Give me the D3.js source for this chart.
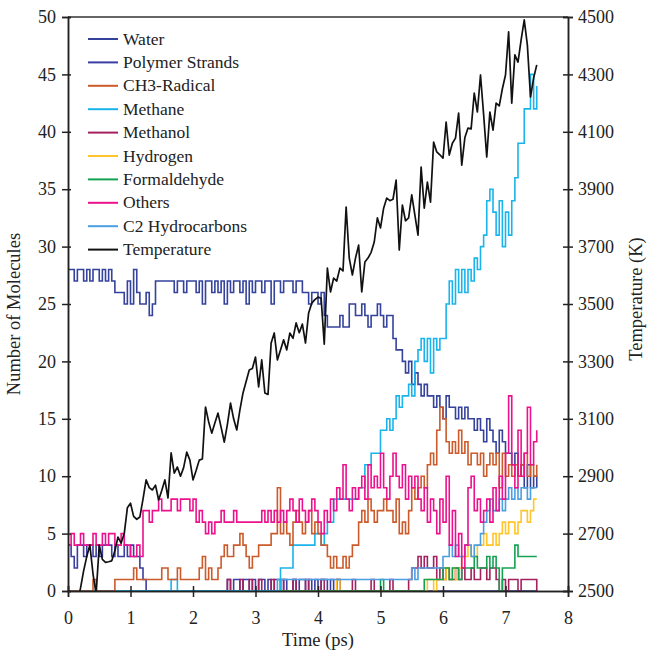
<html>
<head>
    <style>
        body { margin: 0; background: #fff; }
        text { font-family: "Liberation Serif", "Times New Roman", serif; fill: #222; }
    </style>
    <script src="https://cdn.jsdelivr.net/npm/d3@7"></script>
</head>
<body>
    <svg id="container" width="654" height="655">
        <g id="body" transform="translate(68 17)"></g>
    </svg>
</body>
<script>
    // sample step of every series (ps)
    const dt = 0.05

    const xTicks = [0, 1, 2, 3, 4, 5, 6, 7, 8]
    const yTicks = [0, 5, 10, 15, 20, 25, 30, 35, 40, 45, 50]
    const tTicks = [2500, 2700, 2900, 3100, 3300, 3500, 3700, 3900, 4100, 4300, 4500]

    const water = [
        28,28,27,28,28,27,28,27,28,28,27,28,27,28,
        27,26,26,
        26,25,27,25,28,26,25,
        25,26,24,25,
        27,27,27,27,27,27,26,27,27,26,27,27,
        27,26,27,25,27,27,26,27,26,27,25,27,26,27,27,26,27,25,27,26,
        27,27,26,27,27,25,27,27,26,27,27,27,26,27,27,26,26,25,26,
        26,25,26,24,23,23,
        23,23,24,23,23,
        25,25,24,
        24,25,24,23,24,24,25,24,23,24,24,
        22,21,21,
        20,19,20,18,19,
        18,17,18,17,17,16,
        17,16,15,17,16,16,
        15,16,15,16,15,15,
        14,15,14,13,15,14,
        13,12,14,13,12,12,
        11,12,10,11,9,11,
        9,10,9
    ]

    const polymer = [
        4,3,2,4,4,3,4,4,3,4,3,4,4,4,3,4,3,3,4,3,4,3,3,2,1,
        0,0,0,0,0,0,0,0,0,0,0,0,0,0,0,0,0,0,0,0,0,0,0,0,0,0,
        1,0,1,1,0,1,1,0,1,0,1,1,0,1,0,1,1,0,1,0,0,1,0,1,1,0,1,0,1,0,1,1,0,1,0,1,
        0,0,0,0,0,0,0,0,0,0,0,0,0,0,0,0,0,0,0,0,0,0,0,0,0,0,0,0,0,0,0,0,
        0,0,0,0,0,0,0,0,0,0,0,0,0,0,0,0,0,0,0,0,0,0,0,0,0,0,0,0,0,0,0,0
    ]

    const ch3 = [
        0,0,0,0,0,0,0,0,
        1,
        0,0,0,0,0,0,
        1,1,1,1,1,1,
        2,1,
        1,1,1,1,1,1,1,
        2,2,
        1,1,1,
        2,
        1,1,1,1,1,1,
        2,3,1,2,
        1,1,2,
        3,4,3,3,4,
        4,5,4,
        3,2,3,3,
        4,4,4,4,
        5,5,9,
        5,6,5,4,
        6,7,6,5,6,7,5,6,5,
        4,4,
        3,2,3,2,2,3,2,
        3,4,4,
        6,7,6,8,7,6,7,
        7,8,7,7,
        6,8,5,6,5,7,
        9,8,9,10,9,
        11,12,11,
        14,16,15,13,
        12,13,12,14,12,13,11,12,
        12,11,12,10,11,12,11,12,
        9,12,10,11,
        10,11,10,11,12,10,11,10,11
    ]

    const methane = [
        0,0,0,0,0,0,0,0,0,0,0,0,0,0,0,0,0,0,0,0,0,0,0,0,0,0,0,0,0,0,0,0,0,
        1,1,
        0,0,0,0,0,0,0,0,0,0,0,0,0,0,0,0,0,0,0,0,0,0,0,0,0,0,0,0,0,0,0,0,0,
        2,2,2,2,
        4,4,4,4,4,4,4,
        5,5,4,5,
        6,6,
        8,8,8,8,8,8,8,8,
        9,9,
        11,11,12,12,
        12,14,
        14,15,14,15,
        17,16,17,
        17,18,17,
        20,21,22,20,22,19,22,21,22,
        22,
        25,27,25,28,26,28,26,
        28,27,29,28,
        30,31,
        34,35,33,
        31,34,30,33,31,34,
        36,39,39,
        42,42,
        45,42,44
    ]

    const methanol = [
        0,0,0,0,0,0,0,0,0,0,0,0,0,0,0,0,0,0,0,0,0,0,0,0,0,
        0,0,0,0,0,0,0,0,0,0,0,0,0,0,0,0,0,0,0,0,0,0,0,0,0,
        0,1,0,0,0,1,0,0,1,0,
        0,1,0,0,0,1,0,0,1,0,
        0,0,1,0,0,0,1,0,0,0,
        0,1,0,0,0,0,1,0,0,0,
        0,1,0,0,0,0,0,1,0,0,
        0,0,0,1,0,0,0,0,0,1,
        2,2,3,2,3,2,2,3,1,2,
        1,2,1,1,2,1,2,1,1,2,
        1,1,2,2,1,2,2,1,0,1,
        0,1,1,1,0,1,1,1,1,1,0
    ]

    const hydrogen = [
        0,0,0,0,0,0,0,0,0,0,0,0,0,0,0,0,0,0,0,0,0,0,0,0,0,0,0,0,0,0,
        0,0,0,0,0,0,0,0,0,0,0,0,0,0,0,0,0,0,0,0,0,0,0,0,0,0,0,0,0,0,
        0,0,0,0,0,0,0,0,0,0,0,0,0,0,0,0,0,0,0,0,0,0,0,0,0,0,
        1,
        0,0,0,0,0,0,0,0,0,0,0,0,0,0,0,0,0,0,0,0,0,0,0,0,0,0,0,0,
        1,1,0,1,1,1,
        2,1,2,1,2,
        3,3,4,3,
        3,4,4,5,4,4,5,4,
        5,6,5,6,6,5,
        6,7,7,6,
        7,8,8
    ]

    const formaldehyde = [
        0,0,0,0,0,0,0,0,0,0,0,0,0,0,0,0,0,0,0,0,0,0,0,0,0,
        0,0,0,0,0,0,0,0,0,0,0,0,0,0,0,0,0,0,0,0,0,0,0,0,0,
        0,0,0,0,0,0,0,0,0,0,0,0,0,0,0,0,0,0,0,0,0,0,0,0,0,
        0,0,0,0,0,0,0,0,0,0,0,0,0,0,0,0,0,0,0,0,0,0,0,0,0,
        1,
        0,0,0,0,0,0,0,0,0,0,0,0,0,
        1,1,1,1,1,1,
        2,2,1,2,2,1,
        2,2,2,2,
        3,2,2,2,
        3,2,3,2,
        0,2,2,2,
        2,4,
        3,3,3,3,3,3,3
    ]

    const others = [
        4,5,4,4,5,4,4,4,5,4,4,5,4,5,5,4,4,5,4,4,
        3,3,4,3,
        7,7,6,7,7,8,7,7,7,
        8,8,7,8,8,8,7,
        8,6,7,6,
        5,6,5,6,6,
        7,6,6,6,7,6,6,6,
        6,6,6,6,6,7,6,
        7,6,7,6,7,6,7,8,
        7,6,8,7,6,7,8,7,6,
        5,7,6,
        8,7,9,8,11,8,7,9,8,
        9,10,8,11,9,10,9,
        12,9,8,10,
        12,10,9,11,8,10,9,
        10,8,7,9,6,8,7,
        5,8,6,10,4,7,
        3,5,2,4,
        9,10,7,8,
        6,7,8,6,
        9,7,10,8,
        12,17,
        11,9,14,10,12,
        16,11,
        13,14
    ]

    const c2 = [
        0,0,0,0,0,0,0,0,0,0,0,0,0,0,0,0,0,0,0,0,0,0,0,0,0,0,0,0,0,0,0,0,0,0,
        0,0,0,0,0,0,0,0,0,0,0,0,0,0,0,0,0,0,0,0,0,0,0,0,0,0,0,0,0,0,0,0,0,
        1,1,1,1,1,1,1,1,1,1,1,1,1,1,1,1,1,1,1,1,1,1,
        1,1,1,1,1,1,1,1,1,1,1,1,1,1,1,1,1,1,1,1,1,
        2,1,2,2,2,2,2,2,2,2,
        3,3,
        4,3,4,3,3,4,4,3,4,4,
        5,6,
        7,8,7,7,8,7,8,
        9,8,9,8,9,9,8,9,9,9
    ]

    const temperature = [
        2380,2400,2420,2460,2510,2570,2620,2660,2560,2490,
        2660,2610,2600,2602,2605,2640,2688,2667,2700,2790,
        2806,2760,2750,2758,2820,2887,2860,2852,2869,2817,
        2850,2887,2824,2981,2911,2932,2900,2930,2984,2956,
        2887,2920,2956,2960,3141,3090,3050,3085,3120,3070,
        3019,3080,3155,3100,3061,3130,3190,3230,3270,3275,
        3315,3211,3305,3190,3185,3364,3399,3305,3340,3375,
        3340,3399,3380,3434,3400,3430,3364,3469,3503,3515,
        3524,3520,3360,3625,3542,3590,3580,3625,3615,3838,
        3660,3601,3660,3705,3542,3646,3660,3680,3716,3800,
        3765,3834,3869,3860,3865,3932,3688,3845,3790,3800,
        3880,3810,3740,3977,3834,3925,3855,4064,4030,4020,
        4008,4134,4019,4060,4078,4165,3984,4080,4113,4110,
        4235,4169,4298,4160,4012,4169,4106,4200,4190,4250,
        4298,4448,4200,4368,4343,4420,4490,4402,4221,4287,
        4333
    ]

    const seriesNames = ["Water", "Polymer Strands", "CH3-Radical", "Methane", "Methanol",
        "Hydrogen", "Formaldehyde", "Others", "C2 Hydrocarbons", "Temperature"]
    const seriesColors = ["#34429c", "#3a3da3", "#cc5a2a", "#1ab4ec", "#a5205e",
        "#ffc52a", "#14a251", "#ec118d", "#4a9fe2", "#111111"]

    let bodyWidth = 500
    let bodyHeight = 574

    let svg = d3.select("#container")
    let body = d3.select("#body")

    let xScale = d3.scaleLinear().domain([0, 8]).range([0, bodyWidth])
    let yScale = d3.scaleLinear().domain([0, 50]).range([bodyHeight, 0])
    let tScale = d3.scaleLinear().domain([2500, 4500]).range([bodyHeight, 0])

    svg.append("defs").append("clipPath").attr("id", "clip")
        .append("rect").attr("x", 0).attr("y", -1).attr("width", bodyWidth).attr("height", bodyHeight + 1)

    let plot = body.append("g").attr("clip-path", "url(#clip)")

    let stepLine = d3.line()
        .x((d, i) => xScale(i * dt))
        .y(d => yScale(d))
        .curve(d3.curveStepAfter)

    // order of drawing (back to front)
    let drawOrder = [
        [water, 0], [polymer, 1], [methanol, 4], [hydrogen, 5], [formaldehyde, 6],
        [c2, 8], [methane, 3], [ch3, 2], [others, 7]
    ]
    drawOrder.forEach(([vals, k]) => {
        plot.append("path")
            .attr("d", stepLine(vals))
            .attr("fill", "none")
            .attr("stroke", seriesColors[k])
            .attr("stroke-width", 1.6)
    })

    let tempLine = d3.line()
        .x((d, i) => xScale(i * dt))
        .y(d => tScale(d))
    plot.append("path")
        .attr("d", tempLine(temperature))
        .attr("fill", "none")
        .attr("stroke", seriesColors[9])
        .attr("stroke-width", 1.7)
        .attr("stroke-linejoin", "round")

    // top frame
    body.append("line")
        .attr("x1", 0).attr("x2", bodyWidth).attr("y1", 0).attr("y2", 0)
        .attr("stroke", "#333").attr("stroke-width", 1.5)

    function styleAxis(g) {
        g.select(".domain").attr("stroke", "#222").attr("stroke-width", 1.5)
        g.selectAll(".tick line").attr("stroke", "#222").attr("stroke-width", 1.5)
        g.selectAll(".tick text").attr("font-size", 18).attr("fill", "#222")
    }

    // x axis, ticks crossing the line
    body.append("g").attr("transform", "translate(0," + bodyHeight + ")")
        .call(d3.axisBottom(xScale).tickValues(xTicks).tickSize(6).tickPadding(14).tickFormat(d3.format("d")))
        .call(styleAxis)
    body.append("g").attr("transform", "translate(0," + bodyHeight + ")")
        .call(d3.axisBottom(xScale).tickValues(xTicks).tickSize(-5).tickFormat(""))
        .call(styleAxis)

    body.append("g")
        .call(d3.axisLeft(yScale).tickValues(yTicks).tickSize(6).tickPadding(6).tickFormat(d3.format("d")))
        .call(styleAxis)
    body.append("g")
        .call(d3.axisLeft(yScale).tickValues(yTicks).tickSize(-3).tickFormat(""))
        .call(styleAxis)

    body.append("g").attr("transform", "translate(" + bodyWidth + ",0)")
        .call(d3.axisRight(tScale).tickValues(tTicks).tickSize(5).tickPadding(5).tickFormat(d3.format("d")))
        .call(styleAxis)
    body.append("g").attr("transform", "translate(" + bodyWidth + ",0)")
        .call(d3.axisRight(tScale).tickValues(tTicks).tickSize(-5).tickFormat(""))
        .call(styleAxis)

    // axis titles
    body.append("text")
        .attr("x", bodyWidth / 2).attr("y", bodyHeight + 55)
        .attr("text-anchor", "middle").attr("font-size", 18.5)
        .text("Time (ps)")
    body.append("text")
        .attr("transform", "translate(-48," + (bodyHeight / 2 + 10) + ") rotate(-90)")
        .attr("text-anchor", "middle").attr("font-size", 18.5)
        .text("Number of Molecules")
    body.append("text")
        .attr("transform", "translate(" + (bodyWidth + 74) + "," + (bodyHeight / 2 - 5) + ") rotate(-90)")
        .attr("text-anchor", "middle").attr("font-size", 18.5)
        .text("Temperature (K)")

    // legend
    let legend = body.append("g").attr("transform", "translate(20,22)")
    let rows = legend.selectAll(".row")
        .data(seriesNames)
        .enter()
        .append("g")
        .attr("transform", (d, i) => "translate(0," + (i * 23.4) + ")")
    rows.append("line")
        .attr("x1", 0).attr("x2", 30).attr("y1", 0).attr("y2", 0)
        .attr("stroke", (d, i) => seriesColors[i])
        .attr("stroke-width", 2)
    rows.append("text")
        .attr("x", 35).attr("y", 5.5)
        .attr("font-size", 17.5)
        .text(d => d)
</script>
</html>
